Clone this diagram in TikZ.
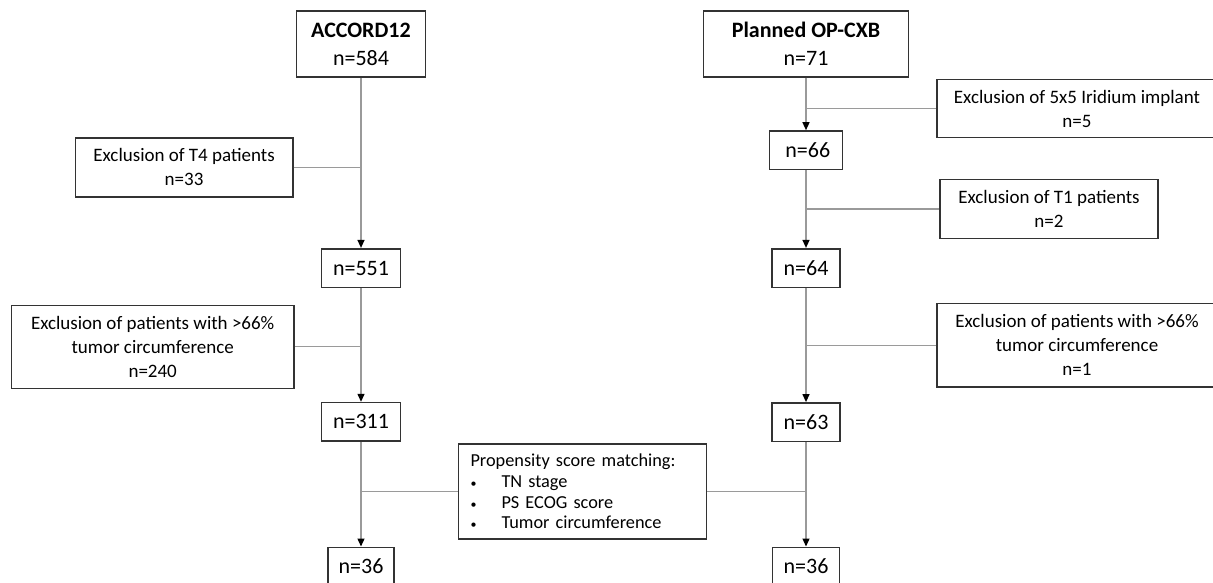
\documentclass[tikz,border=0pt]{standalone}
\usepackage{fontspec}
\setmainfont{Carlito}
\usepackage{xcolor}
\usetikzlibrary{arrows.meta}
\definecolor{boxline}{HTML}{333333}
\definecolor{flowline}{HTML}{9A9A9A}
\newcommand{\dotitem}{\makebox[31pt][l]{\fontsize{12}{12}\selectfont\textbullet}}

\begin{document}
\begin{tikzpicture}[x=1pt,y=-1pt,
    box/.style={draw=boxline,line width=1.6pt,inner sep=0pt,align=center},
    head/.style={box,font=\fontsize{22}{27.3}\selectfont,minimum height=66pt},
    cnt/.style={box,font=\fontsize{22}{27}\selectfont,minimum height=38.6pt},
    excl/.style={box,font=\fontsize{19}{24}\selectfont},
    flow/.style={draw=flowline,line width=1.3pt},
    arr/.style={flow,-{Triangle[length=8pt,width=7pt,color=black]}}]
  \useasboundingbox (0,0) rectangle (1213,583);

  %% ACCORD12 arm
  \node[head,minimum width=129pt] (accord) at (361,44.3)
    {\textbf{ACCORD12}\\n=584};
  \node[excl,minimum width=217.4pt,minimum height=59pt] (exT4) at (184.1,167.4)
    {Exclusion of T4 patients\\n=33};
  \node[cnt,minimum width=79.2pt] (n551) at (361,268) {n=551};
  \node[excl,minimum width=282.5pt,minimum height=83pt] (exCircL) at (152.7,346.8)
    {Exclusion of patients with >66\%\\tumor circumference\\n=240};
  \node[cnt,minimum width=79.2pt] (n311) at (361,421.9) {n=311};
  \node[cnt,minimum width=66.3pt] (n36L) at (361,566.6) {n=36};

  %% OP-CXB arm
  \node[head,minimum width=205pt] (planned) at (806,43.9)
    {\textbf{Planned OP-CXB}\\n=71};
  \node[excl,minimum width=280pt,minimum height=58pt] (exIr) at (1077,108.5)
    {Exclusion of 5x5 Iridium implant\\n=5};
  \node[cnt,minimum width=72.7pt] (n66) at (806,150.3) {\,n=66};
  \node[excl,minimum width=218pt,minimum height=59pt] (exT1) at (1049,209)
    {Exclusion of T1 patients\\n=2};
  \node[cnt,minimum width=67.6pt] (n64) at (806,268) {n=64};
  \node[excl,minimum width=280pt,minimum height=83.4pt] (exCircR) at (1077,345.2)
    {Exclusion of patients with >66\%\\tumor circumference\\n=1};
  \node[cnt,minimum width=67.6pt] (n63) at (806,422.2) {n=63};
  \node[cnt,minimum width=67pt] (n36R) at (806,566.6) {n=36};

  %% Matching
  \node[box,align=left,font=\fontsize{18.3}{20.6}\selectfont,
        minimum width=248pt,minimum height=95.5pt,text width=224pt] (psm) at (582.5,491.5)
    {Propensity score matching:\\
     \dotitem TN stage\\
     \dotitem PS ECOG score\\
     \dotitem Tumor circumference};

  %% Flow
  \draw[arr] (accord) -- (n551);
  \draw[arr] (n551) -- (n311);
  \draw[arr] (n311) -- (n36L);
  \draw[arr] (planned) -- (n66);
  \draw[arr] (n66) -- (n64);
  \draw[arr] (n64) -- (n63);
  \draw[arr] (n63) -- (n36R);

  %% Side branches
  \draw[flow] (exT4.east) -- (exT4.east -| accord);
  \draw[flow] (exCircL.east) -- (exCircL.east -| n551);
  \draw[flow] (exIr.west) -- (exIr.west -| planned);
  \draw[flow] (exT1.west) -- (exT1.west -| n66);
  \draw[flow] (exCircR.west) -- (exCircR.west -| n64);
  \draw[flow] (psm.west) -- (psm.west -| n311);
  \draw[flow] (psm.east) -- (psm.east -| n63);
\end{tikzpicture}
\end{document}
